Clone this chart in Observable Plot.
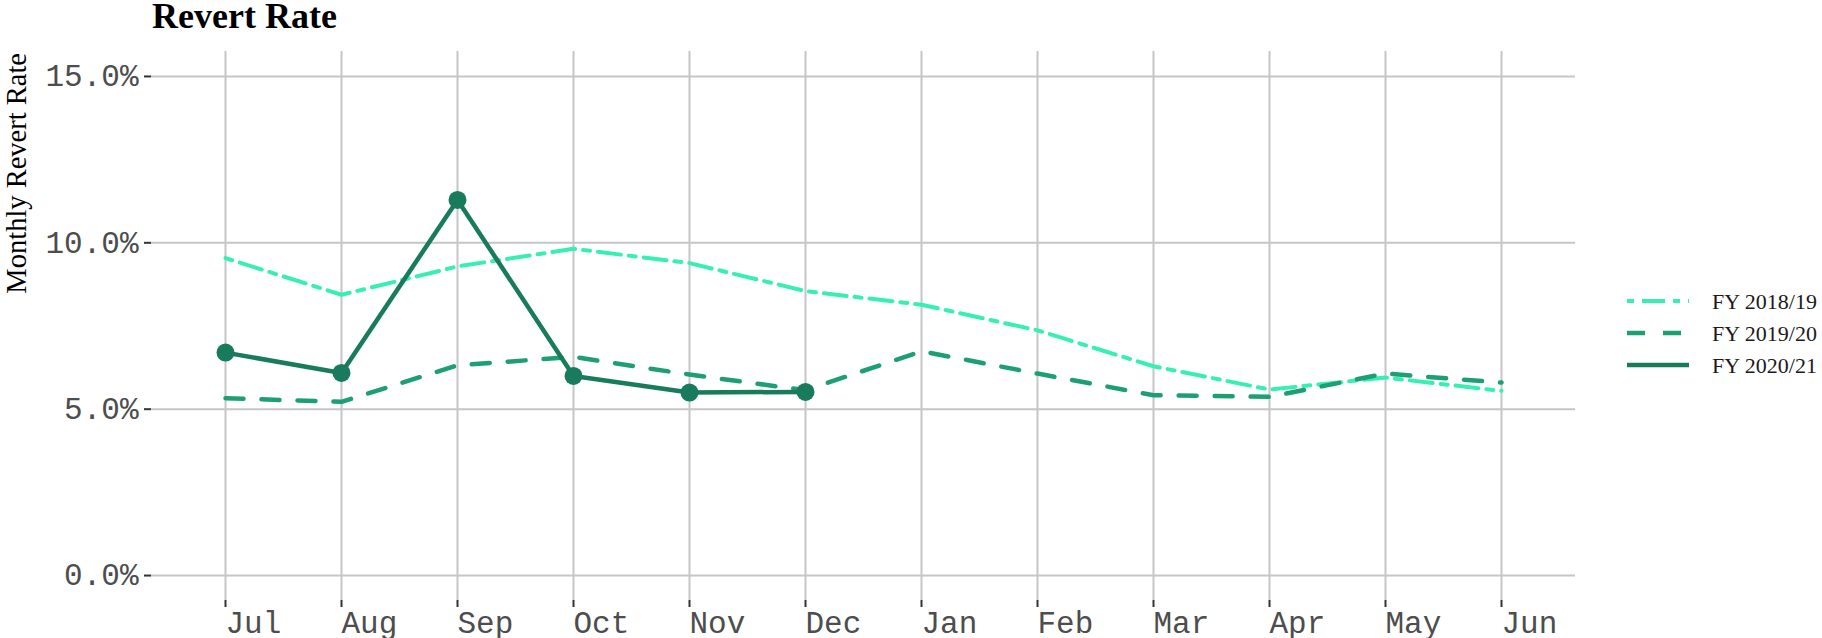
<!DOCTYPE html>
<html><head><meta charset="utf-8">
<script src="https://cdn.jsdelivr.net/npm/d3@7"></script>
<script src="https://cdn.jsdelivr.net/npm/@observablehq/plot@0.6"></script>
<style>
html,body{margin:0;padding:0;background:#fff;}
#wrap{position:relative;width:1822px;height:638px;overflow:hidden;background:#fff;}
#wrap > svg{position:absolute;left:0;top:0;}
</style></head><body><div id="wrap"></div>
<script>
// ---- data ----
const months = ["Jul","Aug","Sep","Oct","Nov","Dec","Jan","Feb","Mar","Apr","May","Jun"];
const seriesNames = ["FY 2018/19","FY 2019/20","FY 2020/21"];
const fy1819 = [9.54, 8.44, 9.29, 9.82, 9.39, 8.55, 8.14, 7.37, 6.29, 5.59, 5.95, 5.55];
const fy1920 = [5.33, 5.22, 6.32, 6.57, 6.04, 5.57, 6.74, 6.07, 5.42, 5.37, 6.07, 5.80];
const fy2021 = [6.70, 6.09, 11.29, 6.00, 5.50, 5.52];
const yTicks = [0, 5, 10, 15];
const titleText = "Revert Rate";
const yTitle = "Monthly Revert Rate";

// ---- styles ----
const colors = ["#36f0b0", "#1c9f74", "#187b5b"];
const dashes = ["7,8,23,8", "18,18", null];
const widths = [4, 4.5, 4.5];

const toRows = (name, vals) => vals.map((v, i) => ({month: months[i], value: v, series: name}));
const allSeries = [fy1819, fy1920, fy2021].map((vals, i) => toRows(seriesNames[i], vals));

const W = 1822, H = 638, ML = 151, MR = 247, MT = 51, MB = 38;
const gridStyle = {stroke: "#c6c6c6", strokeOpacity: 1, strokeWidth: 2};

const chart = Plot.plot({
  width: W, height: H,
  marginLeft: ML, marginRight: MR, marginTop: MT, marginBottom: MB,
  style: {fontFamily: "'Liberation Mono', monospace", fontSize: "31px", background: "transparent"},
  x: {type: "point", domain: months, padding: 0.6, label: null},
  y: {domain: [-0.75, 15.75], label: null},
  marks: [
    Plot.gridY(yTicks, gridStyle),
    Plot.gridX(months, gridStyle),
    Plot.axisY(yTicks, {tickSize: 7, tickPadding: 6, tickFormat: d => d.toFixed(1) + "%",
      stroke: "#333", strokeWidth: 2, fill: "#4d4d4d", label: null}),
    Plot.axisX(months, {tickSize: 7, tickPadding: 3, textAnchor: "start",
      stroke: "#333", strokeWidth: 2, fill: "#4d4d4d", label: null}),
    ...allSeries.map((rows, i) => Plot.line(rows, {
      x: "month", y: "value", stroke: colors[i], strokeWidth: widths[i],
      strokeDasharray: dashes[i] || undefined
    })),
    Plot.dot(allSeries[2], {x: "month", y: "value", r: 9, fill: colors[2], stroke: null})
  ]
});
document.getElementById("wrap").appendChild(chart);

// ---- overlay: title, y title, legend ----
const ov = d3.select("#wrap").append("svg")
  .attr("width", W).attr("height", H)
  .style("position", "absolute").style("left", "0").style("top", "0")
  .style("pointer-events", "none");

ov.append("text").attr("x", 152).attr("y", 28)
  .attr("font-family", "'Liberation Serif', serif").attr("font-weight", "bold")
  .attr("font-size", 36).attr("fill", "#000").text(titleText);

ov.append("text").attr("transform", "translate(26,53) rotate(-90)")
  .attr("text-anchor", "end")
  .attr("font-family", "'Liberation Serif', serif")
  .attr("font-size", 28.5).attr("fill", "#000").text(yTitle);

const leg = ov.append("g");
seriesNames.forEach((name, i) => {
  const cy = 301 + 32 * i;
  leg.append("line").attr("x1", 1627).attr("x2", 1689).attr("y1", cy).attr("y2", cy)
    .attr("stroke", colors[i]).attr("stroke-width", widths[i])
    .attr("stroke-dasharray", dashes[i] || null);
  leg.append("text").attr("x", 1712).attr("y", cy + 8)
    .attr("font-family", "'Liberation Serif', serif").attr("font-size", 22)
    .attr("fill", "#1a1a1a").text(name);
});
</script>
</body></html>
